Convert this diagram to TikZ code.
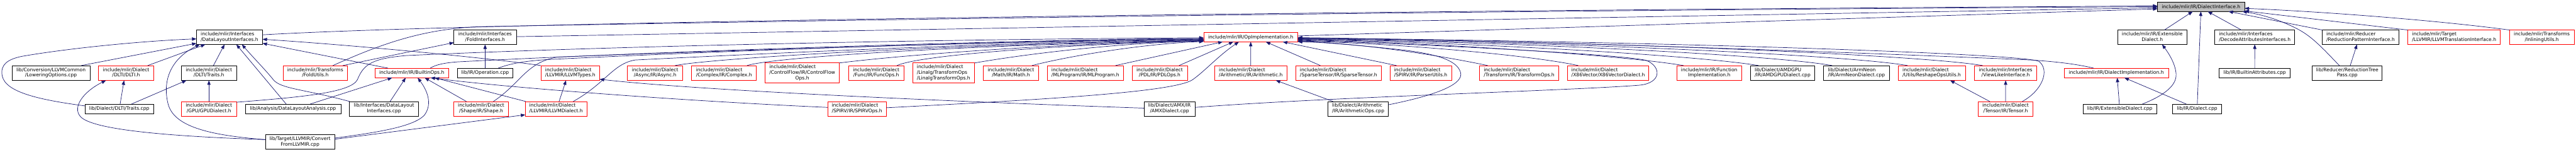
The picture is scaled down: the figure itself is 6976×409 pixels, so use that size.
\documentclass[tikz,border=0pt]{standalone}
\usepackage{fontspec}
\setmainfont{DejaVu Sans}
\usetikzlibrary{arrows.meta,calc}
\definecolor{edgeblue}{HTML}{191970}
\definecolor{nodered}{HTML}{FF0000}
\definecolor{rootgray}{HTML}{BFBFBF}
\newcommand{\dxTwo}[2]{\begin{tabular}{@{}l@{}}#1\\\multicolumn{1}{@{}c@{}}{#2}\end{tabular}}
\newcommand{\dxThree}[3]{\begin{tabular}{@{}l@{}}#1\\#2\\\multicolumn{1}{@{}c@{}}{#3}\end{tabular}}
\newcommand{\gnode}[7]{\node[#6, minimum width=#4pt, minimum height=#5pt] (#1) at (#2,#3) {#7};}
\begin{document}
\begin{tikzpicture}[x=1pt,y=-1pt,
  every node/.style={font=\fontsize{12.9pt}{15pt}\selectfont, inner sep=0pt, outer sep=0pt},
  gbox/.style={draw, rectangle, line width=1.2pt},
  blk/.style={gbox, draw=black},
  redbox/.style={gbox, draw=nodered},
  rootbox/.style={gbox, draw=black, fill=rootgray},
  dep/.style={draw=edgeblue, line width=1.2pt, -{Triangle[length=12pt,width=9pt]}}]
\useasboundingbox (0,0) rectangle (6976,409);

\gnode{root}{5960.5}{18.5}{236}{25}{rootbox}{include/mlir/IR/DialectInterface.h}
\gnode{dli}{621.5}{100.5}{179}{39}{blk}{\dxTwo{include/mlir/Interfaces}{/DataLayoutInterfaces.h}}
\gnode{lowopt}{138}{197}{211}{40}{blk}{\dxTwo{lib/Conversion/LLVMCommon}{/LoweringOptions.cpp}}
\gnode{dlti}{341.5}{197}{150}{40}{redbox}{\dxTwo{include/mlir/Dialect}{/DLTI/DLTI.h}}
\gnode{dtraits}{565.8}{197}{150}{40}{blk}{\dxTwo{include/mlir/Dialect}{/DLTI/Traits.h}}
\gnode{traitscpp}{323}{294}{186}{26}{blk}{lib/Dialect/DLTI/Traits.cpp}
\gnode{gpu}{565.8}{294}{150}{40}{redbox}{\dxTwo{include/mlir/Dialect}{/GPU/GPUDialect.h}}
\gnode{foldutils}{853.8}{197}{175}{40}{redbox}{\dxTwo{include/mlir/Transforms}{/FoldUtils.h}}
\gnode{builtinops}{1115}{197}{199}{26}{redbox}{include/mlir/IR/BuiltinOps.h}
\gnode{dla}{793.5}{294}{259}{26}{blk}{lib/Analysis/DataLayoutAnalysis.cpp}
\gnode{dlicpp}{1040}{294}{187}{40}{blk}{\dxTwo{lib/Interfaces/DataLayout}{Interfaces.cpp}}
\gnode{convllvm}{812.5}{383}{187}{40}{blk}{\dxTwo{lib/Target/LLVMIR/Convert}{FromLLVMIR.cpp}}
\gnode{foldif}{1313.7}{100.5}{169}{39}{blk}{\dxTwo{include/mlir/Interfaces}{/FoldInterfaces.h}}
\gnode{opcpp}{1313.7}{197}{150}{26}{blk}{lib/IR/Operation.cpp}
\gnode{llvmtypes}{1544.4}{197}{159}{40}{redbox}{\dxTwo{include/mlir/Dialect}{/LLVMIR/LLVMTypes.h}}
\gnode{shape}{1303}{294}{149}{40}{redbox}{\dxTwo{include/mlir/Dialect}{/Shape/IR/Shape.h}}
\gnode{llvmdialect}{1505.8}{294}{166.5}{40}{redbox}{\dxTwo{include/mlir/Dialect}{/LLVMIR/LLVMDialect.h}}
\gnode{async}{1774}{197}{149.5}{40}{redbox}{\dxTwo{include/mlir/Dialect}{/Async/IR/Async.h}}
\gnode{complex}{1960.6}{197}{175}{40}{redbox}{\dxTwo{include/mlir/Dialect}{/Complex/IR/Complex.h}}
\gnode{cf}{2172.5}{197}{201}{54}{redbox}{\dxThree{include/mlir/Dialect}{/ControlFlow/IR/ControlFlow}{Ops.h}}
\gnode{func}{2372.7}{197}{149.4}{40}{redbox}{\dxTwo{include/mlir/Dialect}{/Func/IR/FuncOps.h}}
\gnode{spirvops}{2320.7}{294}{158.7}{40}{redbox}{\dxTwo{include/mlir/Dialect}{/SPIRV/IR/SPIRVOps.h}}
\gnode{linalg}{2555.2}{197}{166.5}{54}{redbox}{\dxThree{include/mlir/Dialect}{/Linalg/TransformOps}{/LinalgTransformOps.h}}
\gnode{math}{2737.7}{197}{149}{40}{redbox}{\dxTwo{include/mlir/Dialect}{/Math/IR/Math.h}}
\gnode{mlprog}{2939.3}{197}{205.4}{40}{redbox}{\dxTwo{include/mlir/Dialect}{/MLProgram/IR/MLProgram.h}}
\gnode{oi}{3387}{100.5}{254.7}{25}{redbox}{include/mlir/IR/OpImplementation.h}
\gnode{pdl}{3140.5}{197}{149.6}{40}{redbox}{\dxTwo{include/mlir/Dialect}{/PDL/IR/PDLOps.h}}
\gnode{arith}{3387.2}{197}{195.2}{40}{redbox}{\dxTwo{include/mlir/Dialect}{/Arithmetic/IR/Arithmetic.h}}
\gnode{amx}{3167.1}{294}{138.5}{40}{blk}{\dxTwo{lib/Dialect/AMX/IR}{/AMXDialect.cpp}}
\gnode{sparse}{3624.7}{197}{231}{40}{redbox}{\dxTwo{include/mlir/Dialect}{/SparseTensor/IR/SparseTensor.h}}
\gnode{parser}{3847.4}{197}{167}{40}{redbox}{\dxTwo{include/mlir/Dialect}{/SPIRV/IR/ParserUtils.h}}
\gnode{transops}{4113.9}{197}{214.5}{40}{redbox}{\dxTwo{include/mlir/Dialect}{/Transform/IR/TransformOps.h}}
\gnode{arithops}{3678}{294}{162.7}{40}{blk}{\dxTwo{lib/Dialect/Arithmetic}{/IR/ArithmeticOps.cpp}}
\gnode{x86}{4355}{197}{219.7}{40}{redbox}{\dxTwo{include/mlir/Dialect}{/X86Vector/X86VectorDialect.h}}
\gnode{funcimpl}{4628.6}{197}{175.2}{40}{redbox}{\dxTwo{include/mlir/IR/Function}{Implementation.h}}
\gnode{amdgpu}{4827.3}{197}{175}{40}{blk}{\dxTwo{lib/Dialect/AMDGPU}{/IR/AMDGPUDialect.cpp}}
\gnode{armneon}{5027.3}{197}{177.6}{40}{blk}{\dxTwo{lib/Dialect/ArmNeon}{/IR/ArmNeonDialect.cpp}}
\gnode{reshape}{5231.2}{197}{182.8}{40}{redbox}{\dxTwo{include/mlir/Dialect}{/Utils/ReshapeOpsUtils.h}}
\gnode{viewlike}{5431.4}{197}{168}{40}{redbox}{\dxTwo{include/mlir/Interfaces}{/ViewLikeInterface.h}}
\gnode{tensor}{5431.2}{294}{149.3}{40}{redbox}{\dxTwo{include/mlir/Dialect}{/Tensor/IR/Tensor.h}}
\gnode{dialimpl}{5731}{197}{282.6}{26}{redbox}{include/mlir/IR/DialectImplementation.h}
\gnode{extdialcpp}{5740.6}{294}{200}{26}{blk}{lib/IR/ExtensibleDialect.cpp}
\gnode{extdialh}{5828.4}{100.5}{188.2}{39}{blk}{\dxTwo{include/mlir/IR/Extensible}{Dialect.h}}
\gnode{decode}{6106}{100.5}{216.2}{39}{blk}{\dxTwo{include/mlir/Interfaces}{/DecodeAttributesInterfaces.h}}
\gnode{battr}{6105.8}{197}{192}{26}{blk}{lib/IR/BuiltinAttributes.cpp}
\gnode{dialcpp}{5949.8}{294}{132}{26}{blk}{lib/IR/Dialect.cpp}
\gnode{redpat}{6392.5}{100.5}{206.8}{39}{blk}{\dxTwo{include/mlir/Reducer}{/ReductionPatternInterface.h}}
\gnode{redtree}{6356.5}{197}{189.2}{40}{blk}{\dxTwo{lib/Reducer/ReductionTree}{Pass.cpp}}
\gnode{llvmtrans}{6645.9}{100.5}{250.5}{39}{redbox}{\dxTwo{include/mlir/Target}{/LLVMIR/LLVMTranslationInterface.h}}
\gnode{inlining}{6883.3}{100.5}{174.9}{39}{redbox}{\dxTwo{include/mlir/Transforms}{/InliningUtils.h}}

% --- left cluster
\draw[dep] ($(traitscpp.west)+(0,-8)$) .. controls (110,270) and (15,250) .. (6,205) .. controls (0,175) and (20,160) .. (60,152) .. controls (200,128) and (400,110) .. ($(dli.west)+(0,4.5)$);
\draw[dep] ($(lowopt.north)+(82,0)$) -- ($(dli.west)+(0,16.5)$);
\draw[dep] ($(dlti.north)+(58.5,0)$) -- ($(dli.south)+(-65.5,0)$);
\draw[dep] ($(convllvm.west)+(0,-6)$) .. controls (560,365) and (470,340) .. (455,280) .. controls (440,220) and (460,160) .. ($(dli.south)+(-80.5,0)$);
\draw[dep] ($(dtraits.north)+(12.2,0)$) -- ($(dli.south)+(-13.5,0)$);
\draw[dep] (gpu.north) -- (dtraits.south);
\draw[dep] ($(traitscpp.north)+(2.3,0)$) -- ($(dlti.south)+(-5.5,0)$);
\draw[dep] ($(traitscpp.north)+(33,0)$) -- ($(dtraits.south)+(-60.8,0)$);
\draw[dep] ($(convllvm.west)+(0,-6)$) .. controls (450,368) and (250,350) .. (218,315) .. controls (195,290) and (225,248) .. ($(dlti.south)+(-54.5,0)$);
\draw[dep] ($(dla.north)+(-18.5,0)$) -- ($(dli.south)+(18.5,0)$);
\draw[dep] ($(dlicpp.north west)+(0.5,0)$) .. controls (820,240) and (760,240) .. (740,215) .. controls (720,190) and (690,160) .. ($(dli.south)+(33.5,0)$);
\draw[dep] ($(dla.north)+(46.5,0)$) -- ($(builtinops.south)+(-53,0)$);
\draw[dep] ($(dlicpp.north)+(16.5,0)$) -- ($(builtinops.south)+(-16.4,0)$);
\draw[dep] ($(convllvm.east)+(0,-10)$) .. controls (1000,360) and (1120,345) .. (1150,310) .. controls (1175,275) and (1150,235) .. ($(builtinops.south)+(16,0)$);
\draw[dep] ($(convllvm.east)+(0,-7)$) -- ($(llvmdialect.west)+(0,16)$);
\draw[dep] ($(builtinops.north)+(-64.3,0)$) -- ($(dli.east)+(0,16.5)$);
\draw[dep] (llvmtypes.north west) .. controls (1350,160) and (1000,125) .. ($(dli.east)+(0,5.5)$);
\draw[dep] ($(foldutils.north)+(74.5,0)$) -- ($(foldif.west)+(0,14.5)$);
\draw[dep] (opcpp.north) -- (foldif.south);
\draw[dep] ($(llvmdialect.north)+(8.2,0)$) -- ($(llvmtypes.south)+(-11.4,0)$);
\draw[dep] ($(shape.north)+(-40,0)$) -- ($(builtinops.south)+(35,0)$);
\draw[dep] ($(llvmdialect.north west)+(1,0)$) -- ($(builtinops.south)+(62,0)$);
\draw[dep] ($(spirvops.west)+(0,-4)$) .. controls (1900,275) and (1400,240) .. ($(builtinops.south)+(51,0)$);
\draw[dep] ($(amx.west)+(0,-2)$) .. controls (2600,275) and (1900,245) .. ($(llvmtypes.east)+(0,17)$);

% --- long edges to the root
\draw[dep] ($(dli.east)+(0,-6.5)$) .. controls (1300,60) and (3500,30) .. ($(root.west)+(0,-2.5)$);
\draw[dep] ($(foldutils.north)+(47.7,0)$) .. controls (1040,115) and (1150,78) .. (1300,72) .. controls (2400,52) and (3800,30) .. ($(root.west)+(0,-0.5)$);
\draw[dep] ($(foldif.east)+(0,-1.5)$) -- ($(root.west)+(0,2.5)$);
\draw[dep] ($(oi.east)+(0,-3.5)$) -- ($(root.west)+(0,5.5)$);

% --- edges to OpImplementation.h from the left
\draw[dep] ($(gpu.east)+(0,-18)$) .. controls (820,262) and (950,250) .. (968,215) .. controls (985,172) and (1010,158) .. (1100,150) .. controls (1800,118) and (2800,104) .. ($(oi.west)+(0,1.5)$);
\draw[dep] ($(builtinops.north)+(50,0)$) .. controls (1180,175) and (1200,170) .. (1240,167) .. controls (1800,138) and (2800,106) .. ($(oi.west)+(0,3.5)$);
\draw[dep] ($(opcpp.north)+(35.7,0)$) .. controls (1380,172) and (1420,165) .. (1480,161) .. controls (2000,135) and (2800,108) .. ($(oi.west)+(0,4.5)$);
\draw[dep] ($(shape.north)+(33,0)$) .. controls (1410,225) and (1425,168) .. (1510,154) .. controls (2000,135) and (2800,110) .. ($(oi.west)+(0,5.5)$);
\draw[dep] ($(llvmdialect.north)+(46.5,0)$) .. controls (1640,225) and (1660,172) .. (1720,162) .. controls (2200,138) and (2800,112) .. ($(oi.west)+(0,6.5)$);
\draw[dep] ($(async.north)+(54,0)$) .. controls (1900,162) and (2400,125) .. ($(oi.west)+(0,7.5)$);
\draw[dep] ($(complex.north)+(62.4,0)$) .. controls (2090,155) and (2600,122) .. ($(oi.west)+(0,8.5)$);
\draw[dep] ($(cf.north)+(100,0)$) .. controls (2450,148) and (2850,118) .. ($(oi.west)+(0,9.5)$);
\draw[dep] ($(func.north)+(56.3,0)$) .. controls (2500,145) and (2950,118) .. ($(oi.west)+(0,9.5)$);
\draw[dep] ($(linalg.north)+(84,0)$) .. controls (2800,142) and (3050,115) .. ($(oi.west)+(0,10.5)$);
\draw[dep] ($(math.north)+(56.8,0)$) .. controls (2900,150) and (3100,118) .. ($(oi.west)+(0,11.5)$);
\draw[dep] ($(mlprog.north)+(81.3,0)$) -- ($(oi.south)+(-76,0)$);
\draw[dep] ($(pdl.north)+(52.3,0)$) -- ($(oi.south)+(-47,0)$);
\draw[dep] ($(spirvops.east)+(0,-3)$) .. controls (2800,270) and (3180,250) .. (3230,215) .. controls (3265,190) and (3300,150) .. ($(oi.south)+(-32,0)$);
\draw[dep] (arith.north) -- (oi.south);
\draw[dep] ($(sparse.north)+(-49,0)$) -- ($(oi.south)+(41,0)$);
\draw[dep] ($(parser.north)+(-65.4,0)$) -- ($(oi.south)+(87,0)$);
\draw[dep] ($(arithops.north)+(-68,0)$) -- ($(arith.south)+(67.8,0)$);

% --- edges to OpImplementation.h from the right
\draw[dep] ($(arithops.east)+(0,-11)$) .. controls (3900,255) and (3965,225) .. (3955,195) .. controls (3945,160) and (3880,145) .. (3800,135) .. controls (3680,122) and (3580,114) .. ($(oi.east)+(0,12)$);
\draw[dep] ($(amx.east)+(0,-4)$) .. controls (3600,262) and (4250,245) .. (4440,230) .. controls (4500,224) and (4500,180) .. (4458,163) .. controls (4380,145) and (3800,117) .. ($(oi.east)+(0,8.5)$);
\draw[dep] ($(transops.north)+(-84.9,0)$) .. controls (3900,150) and (3700,118) .. ($(oi.east)+(0,11)$);
\draw[dep] ($(x86.north)+(-81,0)$) .. controls (4150,150) and (3800,118) .. ($(oi.east)+(0,10)$);
\draw[dep] ($(funcimpl.north)+(-69.2,0)$) .. controls (4400,150) and (3900,116) .. ($(oi.east)+(0,7)$);
\draw[dep] ($(amdgpu.north)+(-64.8,0)$) .. controls (4600,150) and (4000,115) .. ($(oi.east)+(0,6)$);
\draw[dep] ($(armneon.north)+(-65.8,0)$) .. controls (4800,148) and (4100,113) .. ($(oi.east)+(0,5)$);
\draw[dep] ($(reshape.north)+(-65.2,0)$) .. controls (5000,148) and (4200,112) .. ($(oi.east)+(0,4)$);
\draw[dep] ($(viewlike.north)+(-62.1,0)$) .. controls (5200,148) and (4300,110) .. ($(oi.east)+(0,3)$);
\draw[dep] ($(tensor.north)+(45.2,0)$) .. controls (5530,245) and (5552,190) .. (5522,166) .. controls (5490,145) and (4500,112) .. ($(oi.east)+(0,2)$);
\draw[dep] ($(dialimpl.north)+(-61.3,0)$) .. controls (5620,172) and (5560,166) .. (5500,162) .. controls (4800,132) and (4000,108) .. ($(oi.east)+(0,1)$);

% --- right cluster
\draw[dep] ($(tensor.north)+(-42.8,0)$) -- ($(reshape.south)+(49.8,0)$);
\draw[dep] (tensor.north) -- (viewlike.south);
\draw[dep] ($(extdialcpp.north)+(-1.3,0)$) -- ($(dialimpl.south)+(2.6,0)$);
\draw[dep] ($(dialcpp.north)+(-29.2,0)$) -- ($(dialimpl.south)+(22,0)$);
\draw[dep] ($(extdialcpp.north)+(61,0)$) .. controls (5850,262) and (5895,235) .. (5893,200) .. controls (5891,170) and (5870,140) .. ($(extdialh.south)+(26.6,0)$);
\draw[dep] ($(extdialh.north)+(32.8,0)$) -- ($(root.south)+(-22.5,0)$);
\draw[dep] ($(dialcpp.north)+(0.6,0)$) -- ($(root.south)+(-0.5,0)$);
\draw[dep] ($(decode.north)+(-36.2,0)$) -- ($(root.south)+(18.2,0)$);
\draw[dep] ($(redpat.north)+(-103.4,0)$) -- ($(root.south)+(74.5,0)$);
\draw[dep] ($(redtree.north)+(-21.5,0)$) .. controls (6290,130) and (6262,100) .. (6225,80) .. controls (6180,56) and (6130,40) .. ($(root.south east)+(-6,0)$);
\draw[dep] (battr.north) -- (decode.south);
\draw[dep] ($(redtree.north)+(8,0)$) -- ($(redpat.south)+(-9.5,0)$);
\draw[dep] (llvmtrans.north west) -- ($(root.east)+(0,11)$);
\draw[dep] (inlining.north west) .. controls (6600,55) and (6300,32) .. ($(root.east)+(0,4)$);
\end{tikzpicture}
\end{document}
